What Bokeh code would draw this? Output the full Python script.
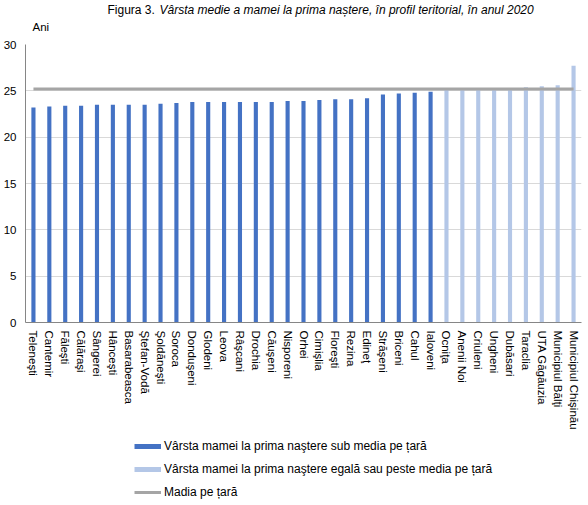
from bokeh.plotting import figure
from bokeh.layouts import column
from bokeh.models import (ColumnDataSource, FactorRange, FixedTicker, Label,
                          Legend, LegendItem)
from bokeh.embed import file_html
from bokeh.resources import INLINE

# Mean age of mothers at first birth, by district, 2020
districts_below = [
    "Teleneşti", "Cantemir", "Făleşti", "Călăraşi", "Sângerei", "Hânceşti",
    "Basarabeasca", "Ştefan-Vodă", "Şoldăneşti", "Soroca", "Donduşeni",
    "Glodeni", "Leova", "Râşcani", "Drochia", "Căuşeni", "Nisporeni",
    "Orhei", "Cimişlia", "Floreşti", "Rezina", "Edineţ", "Străşeni",
    "Briceni", "Cahul", "Ialoveni",
]
ages_below = [
    23.2, 23.3, 23.4, 23.4, 23.5, 23.5,
    23.5, 23.5, 23.6, 23.7, 23.8,
    23.8, 23.8, 23.8, 23.8, 23.8, 23.9,
    23.9, 24.0, 24.1, 24.1, 24.2, 24.6,
    24.7, 24.8, 24.9,
]
districts_above = [
    "Ocniţa", "Anenii Noi", "Criuleni", "Ungheni", "Dubăsari", "Taraclia",
    "UTA Găgăuzia", "Municipiul  Bălţi", "Municipiul Chişinău",
]
ages_above = [25.2, 25.2, 25.2, 25.2, 25.2, 25.4, 25.5, 25.6, 27.7]
national_mean = 25.2
y_ticks = [0, 5, 10, 15, 20, 25, 30]

all_districts = districts_below + districts_above

BLUE = "#4472C4"
LIGHT = "#B4C7E7"
GREY = "#A5A5A5"
FONT = "Liberation Sans"
W = 588
FRAME_LEFT = 24   # frames of the stacked figures are aligned to this edge


def blank_figure(height):
    """A figure without axes; its frame lines up with the chart's frame."""
    return figure(width=W, height=height, x_range=(0, 1), y_range=(0, 1),
                  x_axis_type=None, y_axis_type=None, min_border=0,
                  output_backend="svg", toolbar_location=None,
                  outline_line_color=None)


# ---- header: figure title and unit label ----
HEADER_H = 38
header = blank_figure(HEADER_H)
header.add_layout(Label(x=106 - FRAME_LEFT, y=HEADER_H - 9,
                        x_units="screen", y_units="screen",
                        text="Figura 3.", text_font=FONT, text_font_size="12px",
                        text_baseline="middle", text_color="#000000"))
header.add_layout(Label(x=158 - FRAME_LEFT, y=HEADER_H - 9,
                        x_units="screen", y_units="screen",
                        text="Vârsta medie a mamei la prima naștere, în profil teritorial, în anul 2020",
                        text_font=FONT, text_font_size="12px", text_font_style="italic",
                        text_baseline="middle", text_color="#000000"))
header.add_layout(Label(x=31 - FRAME_LEFT, y=HEADER_H - 26,
                        x_units="screen", y_units="screen",
                        text="Ani", text_font=FONT, text_font_size="11.5px",
                        text_baseline="middle", text_color="#000000"))

# ---- main chart ----
p = figure(
    x_range=FactorRange(factors=all_districts, range_padding=0),
    y_range=(0, 30),
    width=W, height=398,
    min_border_left=FRAME_LEFT, min_border_right=7,
    min_border_top=6, min_border_bottom=114,
    output_backend="svg", toolbar_location=None,
    outline_line_color=None,
)

src_below = ColumnDataSource(dict(x=districts_below, y=ages_below))
src_above = ColumnDataSource(dict(x=districts_above, y=ages_above))
src_mean = ColumnDataSource(dict(x=all_districts,
                                 y=[national_mean] * len(all_districts)))

p.vbar(x="x", top="y", width=0.26, source=src_below,
       fill_color=BLUE, line_color=None)
p.vbar(x="x", top="y", width=0.26, source=src_above,
       fill_color=LIGHT, line_color=None)
p.line(x="x", y="y", source=src_mean, line_color=GREY, line_width=3)

p.yaxis.ticker = FixedTicker(ticks=y_ticks)
p.yaxis.major_tick_out = 0
p.yaxis.major_tick_in = 0
p.yaxis.minor_tick_out = 0
p.yaxis.minor_tick_in = 0
p.yaxis.major_label_standoff = 9
p.yaxis.axis_line_color = "#868686"
p.yaxis.major_label_text_font = FONT
p.yaxis.major_label_text_font_size = "11.5px"
p.yaxis.major_label_text_color = "#000000"

p.xaxis.major_label_orientation = "vertical"
p.xaxis.major_tick_out = 0
p.xaxis.major_tick_in = 0
p.xaxis.major_label_standoff = 8
p.xaxis.axis_line_color = "#868686"
p.xaxis.major_label_text_font = FONT
p.xaxis.major_label_text_font_size = "11.5px"
p.xaxis.major_label_text_color = "#000000"

p.xgrid.grid_line_color = None
p.ygrid.grid_line_color = "#D9D9D9"

# ---- legend (swatch renderers sit outside the legend figure's visible range) ----
LEG_H = 69
leg = blank_figure(LEG_H)
swatch = ColumnDataSource(dict(x=[0, 1], y=[national_mean, national_mean]))
sw_below = leg.line(x="x", y="y", source=swatch, line_color=BLUE, line_width=5)
sw_above = leg.line(x="x", y="y", source=swatch, line_color=LIGHT, line_width=5)
sw_mean = leg.line(x="x", y="y", source=swatch, line_color=GREY, line_width=3)

legend = Legend(
    items=[
        LegendItem(label="Vârsta mamei la prima naştere sub media pe țară",
                   renderers=[sw_below]),
        LegendItem(label="Vârsta mamei la prima naştere egală sau peste media pe țară",
                   renderers=[sw_above]),
        LegendItem(label="Madia pe țară", renderers=[sw_mean]),
    ],
    location=(133 - FRAME_LEFT, 3),
    orientation="vertical",
    glyph_width=27, glyph_height=20, label_height=20, spacing=3,
    label_standoff=3, padding=0, margin=0,
    border_line_color=None, background_fill_alpha=0,
    label_text_font=FONT, label_text_font_size="12px",
    label_text_color="#000000",
)
leg.add_layout(legend, "center")

layout = column(header, p, leg, spacing=0)
open("out.html", "w").write(file_html(layout, INLINE))
